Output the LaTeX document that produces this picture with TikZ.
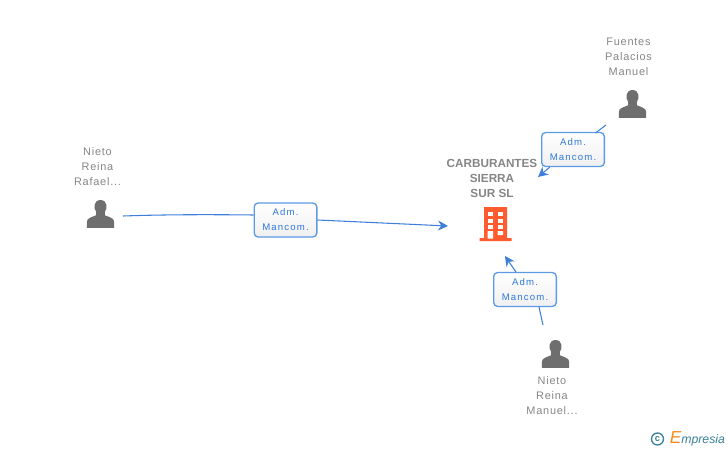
\documentclass[tikz,border=0pt]{standalone}
\usepackage{fontspec}
\setmainfont{Liberation Sans}
\newfontfamily\personfont[LetterSpace=7]{Liberation Sans}
\newfontfamily\roleFont[LetterSpace=12]{Liberation Sans}
\newfontfamily\logofont{Liberation Sans}
\usetikzlibrary{positioning,arrows.meta}
\definecolor{linkBlue}{HTML}{3F7FD9}
\definecolor{boxBlue}{HTML}{5C9AE6}
\definecolor{roleBlue}{HTML}{2F78DC}
\definecolor{nameGrey}{HTML}{858585}
\definecolor{iconGrey}{HTML}{6E6E6E}
\definecolor{buildingRed}{HTML}{FF5B2E}
\definecolor{logoTeal}{HTML}{3A7F96}
\definecolor{logoOrange}{HTML}{F08A1D}
\tikzset{
	person/.style = {font = \personfont\fontsize{8.2}{11.25}\selectfont, text = nameGrey, align = center, inner sep = 0},
	company/.style = {font = \bfseries\fontsize{8.8}{11.25}\selectfont, text = nameGrey, align = center, inner sep = 0},
	role/.style = {draw = boxBlue, line width = 1pt, rounded corners = 3pt, top color = white, bottom color = black!6,
		minimum width = 47pt, minimum height = 25.5pt, inner sep = 0, align = center, text depth = -1.5pt,
		font = \roleFont\fontsize{7.2}{11.25}\selectfont, text = roleBlue},
	link/.style = {draw = linkBlue, line width = .8pt},
	linkArrow/.style = {link, -{Stealth[length = 7.5pt, width = 7.5pt]}}
}
% head and shoulders, #1 = centre
\newcommand{\myPerson}[1]{
	\fill[iconGrey, shift = {(#1)}, xscale = 1.3, yscale = 1.33] (-10.5,10.5) -- (-10.5,6) .. controls (-10.5,3) and (-7,2.5) .. (-3.5,1)
		.. controls (-3,0) and (-3,-.5) .. (-3.3,-1.5) .. controls (-5.5,-4) and (-5.5,-10.5) .. (0,-10.5)
		.. controls (5.5,-10.5) and (5.5,-4) .. (3.3,-1.5) .. controls (3,-.5) and (3,0) .. (3.5,1)
		.. controls (7,2.5) and (10.5,3) .. (10.5,6) -- (10.5,10.5) -- cycle;
}
\begin{document}
\begin{tikzpicture}[x = .75pt, y = -.75pt]
	\useasboundingbox (0,0) rectangle (728,450);

	\coordinate (rafaelIcon) at (100.5,214);
	\coordinate (fuentesIcon) at (632.5,104);
	\coordinate (manuelIcon) at (555.5,354);
	\myPerson{rafaelIcon}
	\myPerson{fuentesIcon}
	\myPerson{manuelIcon}

	\node[person] (rafael) at (97.5,166.5) {Nieto\\Reina\\Rafael...};
	\node[person] (fuentes) at (628.5,56.5) {Fuentes\\Palacios\\Manuel};
	\node[person] (manuel) at (552,396) {Nieto\\Reina\\Manuel...};
	\node[company] (sierra) at (492,178) {CARBURANTES\\SIERRA\\SUR SL};

	% building
	\coordinate (tower) at (495.5,224);
	\fill[buildingRed, shift = {(tower)}] (-16,14) rectangle (16,17) (-11.5,-17) rectangle (11.5,14);
	\foreach \row in {-12,-5.5,1}
		\foreach \col in {-7.8,2}
			\fill[white, shift = {(tower)}] (\col,\row) rectangle +(5.5,4);
	\fill[white, shift = {(tower)}] (-7.8,7) rectangle +(5.5,7.5) (2,7) rectangle +(5.5,4);

	\node[role] (roleRafael) at (285.5,220) {Adm.\\Mancom.};
	\node[role] (roleFuentes) at (573,149.5) {Adm.\\Mancom.};
	\node[role] (roleManuel) at (525,289.5) {Adm.\\Mancom.};

	\coordinate (startRafael) at (123,216);
	\coordinate (startFuentes) at (606,125);
	\coordinate (startManuel) at (543,325);
	\coordinate (endRafael) at (448,226);
	\coordinate (endFuentes) at (538,177);
	\coordinate (endManuel) at (505,256);

	\draw[link] (startRafael) .. controls (165,214.5) and (210,214.5) .. (roleRafael.west |- 0,215);
	\draw[linkArrow] (roleRafael.east |- 0,220) -- (endRafael);
	\draw[link] (startFuentes) -- (595.5,133);
	\draw[linkArrow] (550,167) -- (endFuentes);
	\draw[link] (startManuel) -- (539,307);
	\draw[linkArrow] (516,272) -- (endManuel);

	\node[circle, draw = logoTeal, line width = 1pt, text = logoTeal, inner sep = 0, minimum size = 9pt, font = \bfseries\fontsize{7}{7}\selectfont] (copyright) at (657.5,439) {c};
	\node[right = 4pt of copyright, inner sep = 0, font = \logofont\itshape\fontsize{9.2}{9}\selectfont, text = logoTeal] (logo)
		{\textcolor{logoOrange}{\fontsize{13}{13}\selectfont E}mpresia};
\end{tikzpicture}
\end{document}
